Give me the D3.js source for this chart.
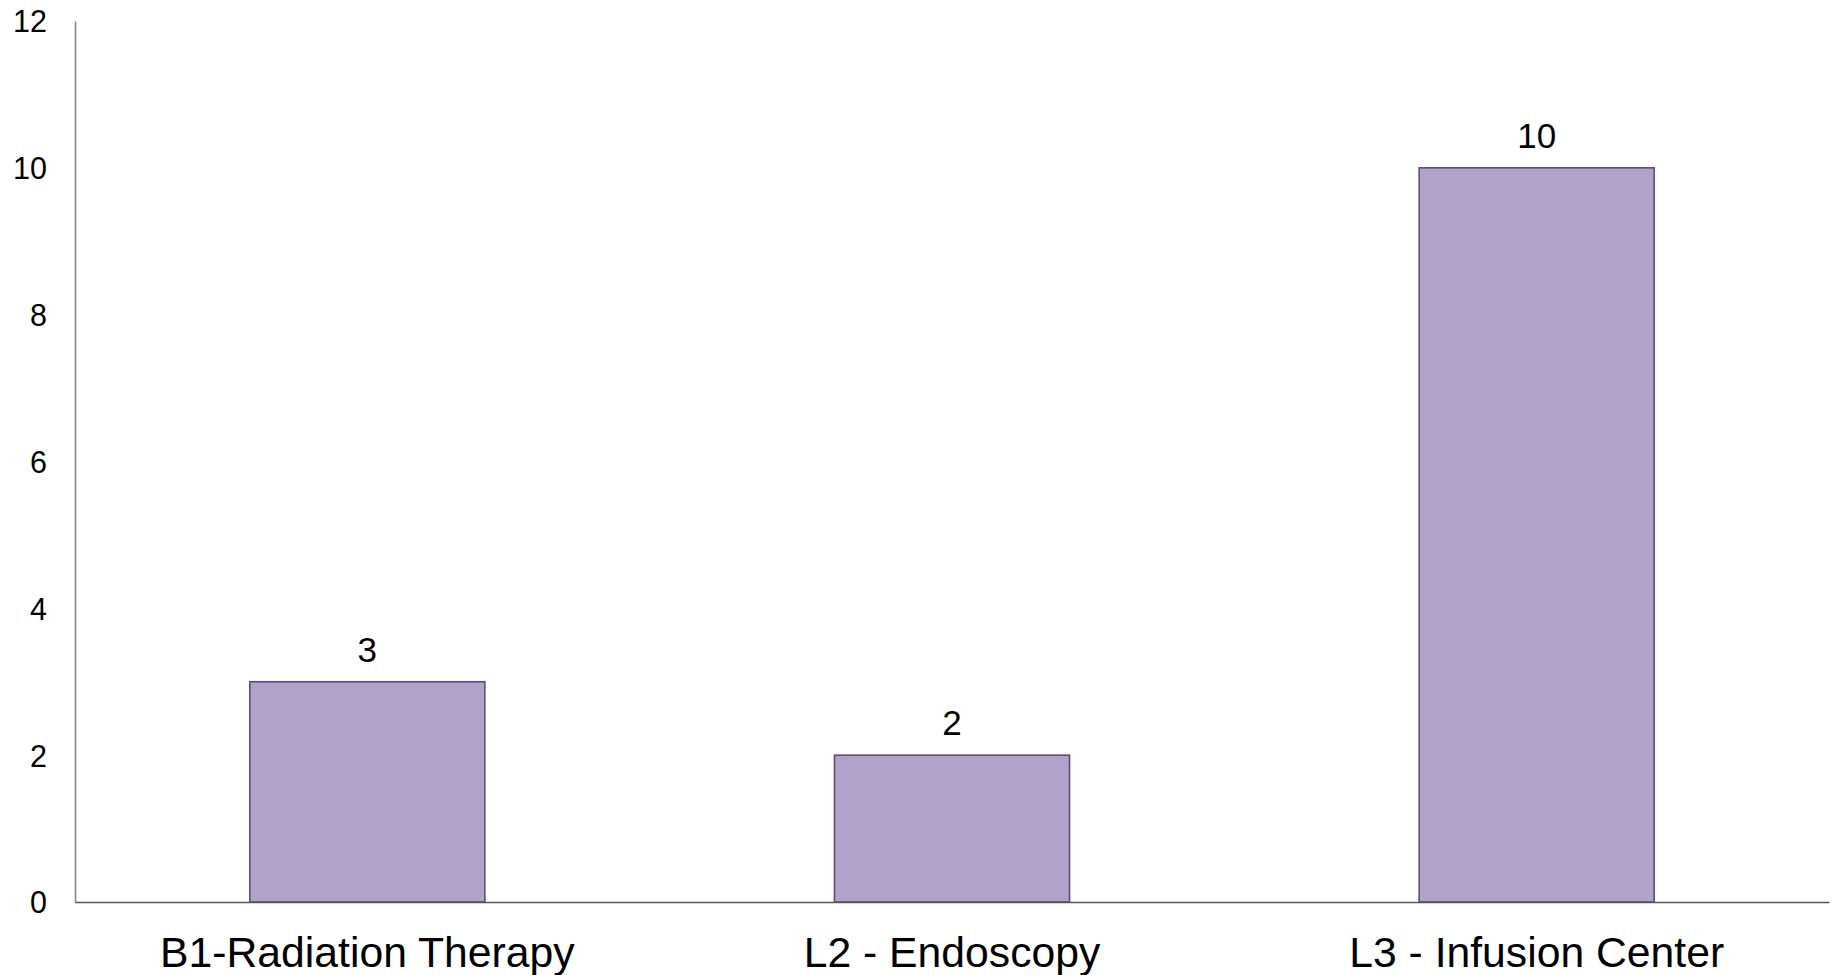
<!DOCTYPE html>
<html><head><meta charset="utf-8">
<script src="https://cdn.jsdelivr.net/npm/d3@7"></script>
<style>html,body{margin:0;padding:0;background:#fff;}svg{display:block;}</style>
</head><body>
<svg id="c" width="1837" height="975"></svg>
<script>
const categories = ["B1-Radiation Therapy", "L2 - Endoscopy", "L3 - Infusion Center"];
const values = [3, 2, 10];
const yTicks = [0, 2, 4, 6, 8, 10, 12];

(function () {
const svg = d3.select("#c");
const mLeft = 75, mRight = 1829, mTop = 21, mBottom = 902;
const font = "'Liberation Sans', Arial, sans-serif";

const x = d3.scaleBand().domain(categories).range([mLeft, mRight]).padding(0);
const y = d3.scaleLinear().domain([0, 12]).range([mBottom, mTop]);
const barW = x.bandwidth() * 0.402;

// y axis
const yAxis = svg.append("g").attr("transform", `translate(${mLeft},0)`)
  .call(d3.axisLeft(y).tickValues(yTicks).tickSize(0).tickPadding(28));
yAxis.select(".domain").attr("stroke", "#868686").attr("stroke-width", 1.6);
yAxis.selectAll("text").attr("font-family", font).attr("font-size", 30.5).attr("fill", "#000")
  .attr("dy", "0.36em");

// bars
svg.append("g").selectAll("rect").data(values).join("rect")
  .attr("x", (d, i) => x(categories[i]) + x.bandwidth() / 2 - barW / 2)
  .attr("y", d => y(d))
  .attr("width", barW)
  .attr("height", d => y(0) - y(d))
  .attr("fill", "#b1a2c8")
  .attr("stroke", "#5f4a85")
  .attr("stroke-width", 1.6);

// x axis
const xAxis = svg.append("g").attr("transform", `translate(0,${mBottom})`)
  .call(d3.axisBottom(x).tickSize(0).tickPadding(35));
xAxis.select(".domain").attr("stroke", "#555").attr("stroke-width", 1.6);
xAxis.selectAll("text").attr("font-family", font).attr("font-size", 42.7).attr("fill", "#000");

// data labels
svg.append("g").selectAll("text").data(values).join("text")
  .attr("x", (d, i) => x(categories[i]) + x.bandwidth() / 2)
  .attr("y", d => y(d) - 20)
  .attr("text-anchor", "middle")
  .attr("font-family", font).attr("font-size", 35).attr("fill", "#000")
  .text(d => d);
})();
</script>
</body></html>
